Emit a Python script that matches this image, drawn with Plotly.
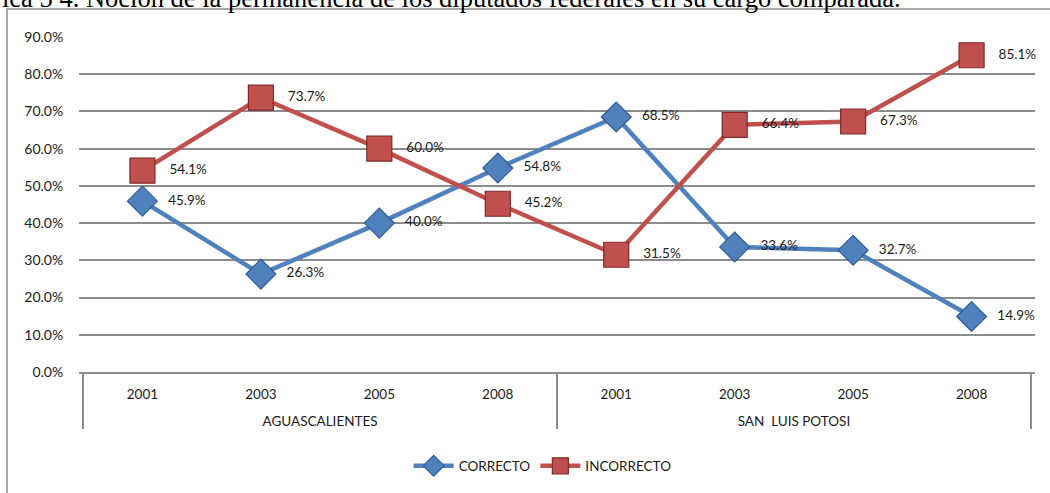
import plotly.graph_objects as go

states = ["AGUASCALIENTES"] * 4 + ["SAN  LUIS POTOSI"] * 4
years = ["2001", "2003", "2005", "2008", "2001", "2003", "2005", "2008"]
correcto = [0.459, 0.263, 0.400, 0.548, 0.685, 0.336, 0.327, 0.149]
incorrecto = [0.541, 0.737, 0.600, 0.452, 0.315, 0.664, 0.673, 0.851]
y_ticks = [0.0, 0.1, 0.2, 0.3, 0.4, 0.5, 0.6, 0.7, 0.8, 0.9]
title_text = "ica 5 4. Noción de la permanencia de los diputados federales en su cargo comparada."

W, H = 1050, 493
L, R, T, B = 79, 15, 37, 121
plot_w = W - L - R
plot_h = H - T - B

def px_x(px):
    return (px - L) / plot_w

def px_y(py):
    return (H - B - py) / plot_h

FONT = "Lato, Carlito, Calibri, sans-serif"
PAD = "\u00a0" * 3

# group labels pushed one line lower, as in the reference
group_labels = ["<br>" + s for s in states]

fig = go.Figure()
fig.add_trace(go.Scatter(
    x=[group_labels, years], y=correcto, name="CORRECTO",
    mode="lines+markers+text",
    line=dict(color="#4F81BD", width=4.5),
    marker=dict(symbol="diamond", size=23, color="#4F81BD",
                line=dict(color="#2F5D95", width=1.2)),
    texttemplate=PAD + "%{y:.1%}", textposition="middle right",
    textfont=dict(family=FONT, size=13.5, color="#1a1a1a"),
    cliponaxis=False,
))
fig.add_trace(go.Scatter(
    x=[group_labels, years], y=incorrecto, name="INCORRECTO",
    mode="lines+markers+text",
    line=dict(color="#C0504D", width=4.5),
    marker=dict(symbol="square", size=25, color="#C0504D",
                line=dict(color="#7F2A28", width=1.2)),
    texttemplate=PAD + "%{y:.1%}", textposition="middle right",
    textfont=dict(family=FONT, size=13.5, color="#1a1a1a"),
    cliponaxis=False,
))

fig.update_layout(
    width=W, height=H,
    margin=dict(l=L, r=R, t=T, b=B),
    paper_bgcolor="white", plot_bgcolor="white",
    font=dict(family=FONT, size=13.5, color="#1a1a1a"),
    showlegend=True,
    legend=dict(orientation="h", x=0.485, xanchor="center",
                y=px_y(466), yanchor="middle",
                font=dict(family=FONT, size=13.5, color="#1a1a1a"),
                itemwidth=40),
    xaxis=dict(
        type="multicategory",
        showline=True, linecolor="#8c8c8c", linewidth=1.5,
        showgrid=False, ticks="",
        showdividers=True, dividercolor="#8c8c8c", dividerwidth=1.5,
        ticklabelstandoff=9,
        tickfont=dict(family=FONT, size=13.5, color="#1a1a1a"),
    ),
    yaxis=dict(
        range=[0, 0.9], tickvals=y_ticks, tickformat=".1%",
        showgrid=True, gridcolor="#8c8c8c", gridwidth=1.5,
        zeroline=False, showline=False,
        ticks="outside", ticklen=12, tickcolor="rgba(0,0,0,0)",
        tickfont=dict(family=FONT, size=14, color="#1a1a1a"),
    ),
    shapes=[dict(
        type="rect", xref="paper", yref="paper",
        x0=px_x(7), x1=px_x(1070), y0=px_y(510), y1=px_y(9),
        line=dict(color="#8c8c8c", width=1.5), fillcolor="rgba(0,0,0,0)",
        layer="below",
    )],
    annotations=[dict(
        text=title_text, xref="paper", yref="paper",
        x=px_x(0), xanchor="left", y=px_y(15), yanchor="bottom",
        showarrow=False,
        font=dict(family="Liberation Serif, Times New Roman, serif", size=26.5, color="black"),
    )],
)

fig.write_html("out.html", config={"displayModeBar": False},
               post_script="document.body.style.margin='0';")
